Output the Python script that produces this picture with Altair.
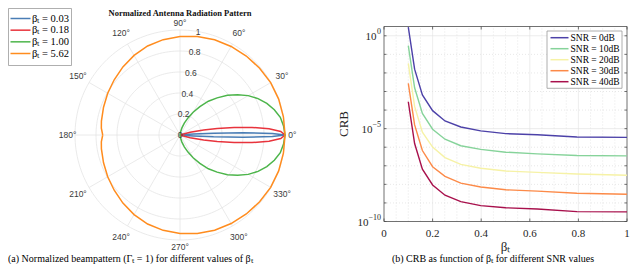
import altair as alt
import pandas as pd

# ---------------- left panel: normalized beampattern (polar) ----------------
BETA_LABELS = ["βₜ = 0.03", "βₜ = 0.18", "βₜ = 1.00", "βₜ = 5.62"]
BETA_COLORS = ["#4a7db5", "#e8333c", "#4db54b", "#ff8c1e"]

ANG_003 = [0, 1, 2, 3, 4, 5, 6, 8]
R_003 = [1.0, 0.88, 0.60, 0.32, 0.13, 0.045, 0.01, 0.0]

ANG_018 = [0, 2, 4, 6, 8, 10, 12, 15, 20, 25]
R_018 = [1.0, 0.96, 0.85, 0.69, 0.52, 0.36, 0.23, 0.10, 0.015, 0.0]

ANG_100 = [0, 5, 10, 15, 20, 25, 30, 35, 40, 45, 50, 55, 60, 65, 70, 75, 80, 85, 90]
R_100 = [1.0, 0.99, 0.97, 0.93, 0.88, 0.82, 0.75, 0.67, 0.59, 0.50, 0.42, 0.33,
         0.25, 0.18, 0.12, 0.07, 0.03, 0.008, 0.0]

ANG_562 = [0, 10, 20, 30, 40, 50, 60, 70, 80, 90, 100, 110, 120, 130, 140,
           150, 160, 170, 175, 180]
R_562 = [1.0, 1.0, 1.0, 0.997, 0.99, 0.982, 0.974, 0.965, 0.952, 0.937, 0.922,
         0.902, 0.875, 0.846, 0.818, 0.795, 0.775, 0.760, 0.752, 0.736]

RING_R = [0.2, 0.4, 0.6, 0.8, 1.0]
RLABEL_R = [0.0, 0.2, 0.4, 0.6, 0.8, 1.0]
RLABEL_TXT = ["0", "0.2", "0.4", "0.6", "0.8", "1"]
SPOKE_ANG = [0, 30, 60, 90, 120, 150, 180, 210, 240, 270, 300, 330]
SPOKE_TXT = ["0°", "30°", "60°", "90°", "120°", "150°", "180°", "210°",
             "240°", "270°", "300°", "330°"]

# ---------------- right panel: CRB vs beta_t ----------------
BETA_T = [0.1, 0.126, 0.158, 0.2, 0.251, 0.316, 0.398, 0.501, 0.631, 0.794, 1.0]
SNR_LABELS = ["SNR = 0dB", "SNR = 10dB", "SNR = 20dB", "SNR = 30dB", "SNR = 40dB"]
SNR_COLORS = ["#4c41a8", "#86d39a", "#f6f2a6", "#fc8a48", "#a8104c"]
CRB_0 = [2.95, 1.6e-2, 6.5e-4, 9.3e-5, 2.6e-5, 1.23e-5, 7.6e-6, 5.4e-6, 4.7e-6, 3.55e-6, 3.4e-6]
CRB_10 = [0.295, 1.58e-3, 6.6e-5, 9.3e-6, 2.7e-6, 1.2e-6, 7.6e-7, 5.4e-7, 4.4e-7, 3.6e-7, 3.4e-7]
CRB_20 = [3.3e-2, 1.58e-4, 6.5e-6, 1.02e-6, 2.75e-7, 1.2e-7, 7.4e-8, 5.2e-8, 4.4e-8, 3.6e-8, 3.1e-8]
CRB_30 = [2.75e-3, 1.58e-5, 6.6e-7, 8.9e-8, 2.7e-8, 1.17e-8, 7.2e-9, 5.1e-9, 4.3e-9, 3.3e-9, 2.95e-9]
CRB_40 = [2.8e-4, 1.58e-6, 6.6e-8, 9.3e-9, 2.6e-9, 1.17e-9, 7.2e-10, 5.5e-10, 4.7e-10, 3.4e-10, 3.3e-10]
X_TICKS = [0, 0.2, 0.4, 0.6, 0.8, 1.0]
X_TICK_TXT = ["0", "0.2", "0.4", "0.6", "0.8", "1"]
X_MINOR = [0.05, 0.1, 0.15, 0.25, 0.3, 0.35, 0.45, 0.5, 0.55, 0.65, 0.7, 0.75, 0.85, 0.9, 0.95]
Y_TICKS = [1.0, 1e-5, 1e-10]
Y_TICK_EXP = ["0", "−5", "−10"]
Y_DECADES = [1e-10, 1e-9, 1e-8, 1e-7, 1e-6, 1e-5, 1e-4, 1e-3, 1e-2, 1e-1, 1.0]
Y_MINOR = [1e-9, 1e-8, 1e-7, 1e-6, 1e-4, 1e-3, 1e-2, 1e-1]

SERIF = "Liberation Serif"
SANS = "Liberation Sans"

# ---------------- geometry (view coordinates; page = view + 8) ----------------
W, H = 624, 256
CX, CY, RAD = 172, 127, 105
PX0, PX1 = 376, 619          # right plot x range
PY0, PY1 = 213.5, 18.5       # right plot y range (bottom, top)

xs = alt.Scale(domain=[-1, 1], range=[CX - RAD, CX + RAD], nice=False, zero=False)
ys = alt.Scale(domain=[-1, 1], range=[CY + RAD, CY - RAD], nice=False, zero=False)


def PX(f):
    return alt.X(f, type="quantitative", scale=xs, axis=None)


def PY(f):
    return alt.Y(f, type="quantitative", scale=ys, axis=None)


rows = []
for lab, angs, rs in zip(BETA_LABELS, [ANG_003, ANG_018, ANG_100, ANG_562],
                         [R_003, R_018, R_100, R_562]):
    for a, r in zip(angs, rs):
        rows.append({"series": lab, "ang": a, "r": r})
        if a != 0:
            rows.append({"series": lab, "ang": -a, "r": r})
polar_df = pd.DataFrame(rows)

ring_df = pd.DataFrame([{"ring": rr, "ang": a} for rr in RING_R for a in range(0, 361, 2)])
spoke_df = pd.DataFrame({"ang": SPOKE_ANG, "txt": SPOKE_TXT})
rlab_df = pd.DataFrame({"r": RLABEL_R, "txt": RLABEL_TXT})

rings = alt.Chart(ring_df).transform_calculate(
    px="datum.ring*cos(datum.ang*PI/180)", py="datum.ring*sin(datum.ang*PI/180)"
).mark_line(color="#e4e4e4", strokeWidth=0.8).encode(
    x=PX("px"), y=PY("py"), detail="ring:N", order="ang:Q")

spokes = alt.Chart(spoke_df).transform_calculate(
    x0="0", y0="0", x1="cos(datum.ang*PI/180)", y1="sin(datum.ang*PI/180)"
).mark_rule(color="#e4e4e4", strokeWidth=0.8).encode(
    x=PX("x0"), y=PY("y0"), x2="x1:Q", y2="y1:Q")

curves = alt.Chart(polar_df).transform_calculate(
    px="datum.r*cos(datum.ang*PI/180)", py="datum.r*sin(datum.ang*PI/180)"
).mark_line(strokeWidth=1.5).encode(
    x=PX("px"), y=PY("py"), order="ang:Q",
    color=alt.Color("series:N", scale=alt.Scale(domain=BETA_LABELS, range=BETA_COLORS),
                    legend=None))

ang_text = alt.Chart(spoke_df).transform_calculate(
    rr="1.07 + 0.06*abs(sin(2*datum.ang*PI/180))",
).transform_calculate(
    px="datum.rr*cos(datum.ang*PI/180)", py="datum.rr*sin(datum.ang*PI/180)"
).mark_text(font=SANS, fontSize=8.5, color="#3a3a3a", baseline="middle", align="center").encode(
    x=PX("px"), y=PY("py"), text="txt:N")

r_text = alt.Chart(rlab_df).transform_calculate(
    px="datum.r*cos(80*PI/180)", py="datum.r*sin(80*PI/180)"
).mark_text(font=SANS, fontSize=8.5, color="#3a3a3a", baseline="middle", align="center").encode(
    x=PX("px"), y=PY("py"), text="txt:N")

polar = alt.layer(rings, spokes, curves, r_text, ang_text)

# ---------------- right panel ----------------
xr = alt.Scale(domain=[0, 1], range=[PX0, PX1], nice=False, zero=False)
yr = alt.Scale(type="log", domain=[1e-10, 10 ** 0.5], range=[PY0, PY1], nice=False)


def RX(f):
    return alt.X(f, type="quantitative", scale=xr, axis=None)


def RY(f):
    return alt.Y(f, type="quantitative", scale=yr, axis=None)


crb_rows = []
for lab, vals in zip(SNR_LABELS, [CRB_0, CRB_10, CRB_20, CRB_30, CRB_40]):
    for b, v in zip(BETA_T, vals):
        crb_rows.append({"snr": lab, "beta": b, "crb": v})
crb_df = pd.DataFrame(crb_rows)


def vgrid(vals, dash, color):
    return alt.Chart(pd.DataFrame({"v": vals})).transform_calculate(
        y0="1e-10", y1="pow(10,0.5)"
    ).mark_rule(color=color, strokeWidth=0.7, strokeDash=dash).encode(
        x=RX("v"), y=RY("y0"), y2="y1:Q")


def hgrid(vals, dash, color):
    return alt.Chart(pd.DataFrame({"v": vals})).transform_calculate(
        x0="0", x1="1"
    ).mark_rule(color=color, strokeWidth=0.7, strokeDash=dash).encode(
        y=RY("v"), x=RX("x0"), x2="x1:Q")


box = alt.Chart(pd.DataFrame({"a": [0]})).transform_calculate(
    x0="0", x1="1", y0="1e-10", y1="pow(10,0.5)"
).mark_rect(fillOpacity=0, stroke="#4d4d4d", strokeWidth=0.8).encode(
    x=RX("x0"), x2="x1:Q", y=RY("y0"), y2="y1:Q")

xt_df = pd.DataFrame({"v": X_TICKS, "txt": X_TICK_TXT})
yt_df = pd.DataFrame({"v": Y_TICKS, "exp": Y_TICK_EXP})
dec_df = pd.DataFrame({"v": Y_DECADES})

xticks_b = alt.Chart(xt_df).mark_rule(color="#4d4d4d", strokeWidth=0.8).encode(
    x=RX("v"), y=alt.value(PY0), y2=alt.value(PY0 - 3))
xticks_t = alt.Chart(xt_df).mark_rule(color="#4d4d4d", strokeWidth=0.8).encode(
    x=RX("v"), y=alt.value(PY1), y2=alt.value(PY1 + 3))
yticks_l = alt.Chart(dec_df).mark_rule(color="#4d4d4d", strokeWidth=0.8).encode(
    y=RY("v"), x=alt.value(PX0), x2=alt.value(PX0 + 2.5))
yticks_r = alt.Chart(dec_df).mark_rule(color="#4d4d4d", strokeWidth=0.8).encode(
    y=RY("v"), x=alt.value(PX1), x2=alt.value(PX1 - 2.5))

xlab = alt.Chart(xt_df).mark_text(font=SERIF, fontSize=11, color="#262626",
                                  baseline="middle", align="center").encode(
    x=RX("v"), y=alt.value(225.5), text="txt:N")

ylab_exp = alt.Chart(yt_df).mark_text(font=SERIF, fontSize=8, color="#262626",
                                      baseline="middle", align="right", dy=-4).encode(
    y=RY("v"), x=alt.value(PX0 - 3), text="exp:N")

ylab_base = []
for val, w in zip(Y_TICKS, [4.5, 8.5, 12.5]):
    ylab_base.append(
        alt.Chart(pd.DataFrame({"v": [val]})).mark_text(
            font=SERIF, fontSize=11, color="#262626", baseline="middle",
            align="right", dy=1.5).encode(
            y=RY("v"), x=alt.value(PX0 - 3 - w), text=alt.value("10")))

lines = alt.Chart(crb_df).mark_line(strokeWidth=1.4, clip=True).encode(
    x=RX("beta"), y=RY("crb"), order="beta:Q",
    color=alt.Color("snr:N", scale=alt.Scale(domain=SNR_LABELS, range=SNR_COLORS), legend=None))

crb = alt.layer(vgrid(X_MINOR, [1, 2], "#dddddd"), vgrid(X_TICKS[1:-1], [1, 0], "#e2e2e2"),
                hgrid(Y_MINOR, [1, 2], "#dddddd"), hgrid([1e-5, 1.0], [1, 0], "#e2e2e2"),
                box, xticks_b, xticks_t, yticks_l, yticks_r, lines, xlab, ylab_exp, *ylab_base)


# ---------------- legends (drawn manually) ----------------
def legend(labels, colors, x0, x1, xl, y_first, y_last, frame, fsize):
    df = pd.DataFrame({"lab": labels, "i": list(range(len(labels)))})
    yl = alt.Scale(domain=[0, len(labels) - 1], range=[y_first, y_last], nice=False, zero=False)
    fr = alt.Chart(pd.DataFrame({"a": [0]})).mark_rect(
        fill="white", stroke="#9a9a9a", strokeWidth=0.8).encode(
        x=alt.value(frame[0]), x2=alt.value(frame[1]),
        y=alt.value(frame[2]), y2=alt.value(frame[3]))
    seg = alt.Chart(df).mark_rule(strokeWidth=1.5).encode(
        x=alt.value(x0), x2=alt.value(x1),
        y=alt.Y("i:Q", scale=yl, axis=None),
        color=alt.Color("lab:N", scale=alt.Scale(domain=labels, range=colors), legend=None))
    txt = alt.Chart(df).mark_text(font=SERIF, fontSize=fsize, align="left",
                                  baseline="middle", color="black").encode(
        x=alt.value(xl), y=alt.Y("i:Q", scale=yl, axis=None), text="lab:N")
    return alt.layer(fr, seg, txt)


leg_left = legend(BETA_LABELS, BETA_COLORS, 2.5, 22.5, 24, 10.5, 45.5, [0.5, 63.5, 0.5, 57.5], 10.5)
leg_right = legend(SNR_LABELS, SNR_COLORS, 542.5, 560.5, 562.5, 29.7, 73.7, [539, 614, 23, 80.3], 9.5)

# ---------------- titles / captions ----------------
anno = alt.layer(
    alt.Chart(pd.DataFrame({"t": ["Normalized Antenna Radiation Pattern"]})).mark_text(
        font=SERIF, fontSize=8.5, fontWeight="bold", align="center", baseline="middle",
        color="#111").encode(x=alt.value(172), y=alt.value(4.5), text="t:N"),
    alt.Chart(pd.DataFrame({"t": ["CRB"]})).mark_text(
        font=SERIF, fontSize=13, align="center", baseline="middle", angle=270,
        color="#262626").encode(x=alt.value(336), y=alt.value(116), text="t:N"),
    alt.Chart(pd.DataFrame({"t": ["βₜ"]})).mark_text(
        font=SERIF, fontSize=13, align="center", baseline="middle",
        color="#262626").encode(x=alt.value(497.5), y=alt.value(239), text="t:N"),
    alt.Chart(pd.DataFrame({"t": ["(a) Normalized beampattern (Γₜ = 1) for different values of βₜ"]})).mark_text(
        font=SERIF, fontSize=10, align="left", baseline="middle", color="black").encode(
        x=alt.value(0), y=alt.value(251), text="t:N"),
    alt.Chart(pd.DataFrame({"t": ["(b) CRB as function of βₜ for different SNR values"]})).mark_text(
        font=SERIF, fontSize=10, align="center", baseline="middle", color="black").encode(
        x=alt.value(485), y=alt.value(251), text="t:N"),
)

chart = alt.layer(polar, crb, leg_left, leg_right, anno).resolve_scale(
    x="independent", y="independent", color="independent"
).properties(
    width=W, height=H, padding=0, autosize=alt.AutoSizeParams(type="none")
).configure_view(stroke=None)

chart.save("out.html", embed_options={"renderer": "svg", "actions": False})
